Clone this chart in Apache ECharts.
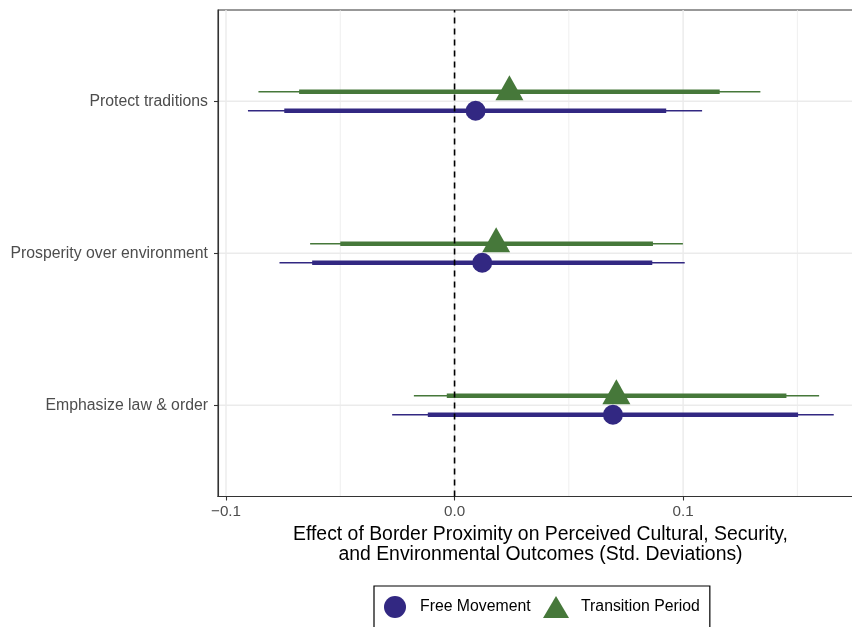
<!DOCTYPE html>
<html>
<head>
<meta charset="utf-8">
<script src="https://cdn.jsdelivr.net/npm/echarts@6/dist/echarts.min.js"></script>
<style>
html,body{margin:0;padding:0;background:#fff;}
#chart{width:852px;height:627px;}
</style>
</head>
<body>
<div id="chart"></div>
<script>
// Categories, bottom to top (position 1..3 on the y scale)
const categories = ['Emphasize law & order', 'Prosperity over environment', 'Protect traditions'];
const categoryPositions = [1, 2, 3];

// Free Movement estimates and intervals
const fmEst  = [0.0693, 0.0121, 0.0092];
const fmLo95 = [-0.0273, -0.0766, -0.0904];
const fmHi95 = [0.1659, 0.1007, 0.1083];
const fmLo90 = [-0.0117, -0.0623, -0.0745];
const fmHi90 = [0.1503, 0.0865, 0.0926];

// Transition Period estimates and intervals
const tpEst  = [0.0708, 0.0182, 0.0240];
const tpLo95 = [-0.0178, -0.0632, -0.0858];
const tpHi95 = [0.1595, 0.0999, 0.1338];
const tpLo90 = [-0.0034, -0.0500, -0.0680];
const tpHi90 = [0.1452, 0.0868, 0.1160];

// Axis ticks
const xTicks = [-0.1, 0, 0.1];
const xMinorGrid = [-0.05, 0.05, 0.15];
const xMin = -0.1035, xMax = 0.1787;
const yMin = 0.4, yMax = 3.6;

const NAVY = '#322882';
const GREEN = '#46783A';
const DODGE = 0.0625;
const FONT = '"Liberation Sans", Arial, Helvetica, sans-serif';

function fmtX(v) {
  const s = Math.abs(v) < 1e-9 ? '0.0' : v.toFixed(1);
  return s.replace('-', '\u2212');
}

function intervalData(pos, lo95, hi95, lo90, hi90, off) {
  return pos.map((p, i) => [lo95[i], p + off, hi95[i], lo90[i], hi90[i]]);
}

function intervalRenderer(color) {
  return function (params, api) {
    const y = api.value(1);
    const a = api.coord([api.value(0), y]);
    const b = api.coord([api.value(2), y]);
    const c = api.coord([api.value(3), y]);
    const d = api.coord([api.value(4), y]);
    return {
      type: 'group',
      children: [
        { type: 'line', shape: { x1: a[0], y1: a[1], x2: b[0], y2: b[1] },
          style: { stroke: color, lineWidth: 1.6, lineCap: 'butt' } },
        { type: 'line', shape: { x1: c[0], y1: c[1], x2: d[0], y2: d[1] },
          style: { stroke: color, lineWidth: 4.6, lineCap: 'butt' } }
      ]
    };
  };
}

function vLineRenderer(width, color, dash) {
  return function (params, api) {
    const v = api.value(0);
    const p1 = api.coord([v, yMin]);
    const p2 = api.coord([v, yMax]);
    return { type: 'line', shape: { x1: p1[0], y1: p1[1], x2: p2[0], y2: p2[1] },
      style: { stroke: color, lineWidth: width, lineDash: dash || null } };
  };
}

function hLineRenderer(width, color) {
  return function (params, api) {
    const v = api.value(0);
    const p1 = api.coord([xMin, v]);
    const p2 = api.coord([xMax, v]);
    return { type: 'line', shape: { x1: p1[0], y1: p1[1], x2: p2[0], y2: p2[1] },
      style: { stroke: color, lineWidth: width } };
  };
}

const chart = echarts.init(document.getElementById('chart'), null, { renderer: 'canvas' });

const option = {
  animation: false,
  backgroundColor: '#ffffff',
  grid: {
    left: 218, top: 10, width: 645, height: 486.5,
    outerBoundsMode: 'none', containLabel: false,
    show: true, borderColor: '#333333', borderWidth: 1.1, backgroundColor: 'transparent'
  },
  xAxis: {
    type: 'value', min: xMin, max: xMax,
    splitLine: { show: false },
    axisLine: { show: true, onZero: false, lineStyle: { color: '#333333', width: 1.1 } },
    axisTick: { show: true, customValues: xTicks, length: 4, lineStyle: { color: '#333333', width: 1.1 } },
    axisLabel: { customValues: xTicks, formatter: fmtX, margin: 8,
      color: '#4D4D4D', fontSize: 15.2, fontFamily: FONT },
    name: 'Effect of Border Proximity on Perceived Cultural, Security,\nand Environmental Outcomes (Std. Deviations)',
    nameLocation: 'middle', nameGap: 27.5,
    nameTextStyle: { color: '#000000', fontSize: 19.4, lineHeight: 20.5, fontFamily: FONT, align: 'center' }
  },
  yAxis: {
    type: 'value', min: yMin, max: yMax,
    splitLine: { show: false },
    axisLine: { show: true, onZero: false, lineStyle: { color: '#333333', width: 1.1 } },
    axisTick: { show: true, customValues: categoryPositions, length: 4, lineStyle: { color: '#333333', width: 1.1 } },
    axisLabel: { customValues: categoryPositions,
      formatter: v => categories[Math.round(v) - 1], margin: 10,
      color: '#4D4D4D', fontSize: 15.8, fontFamily: FONT }
  },
  legend: {
    left: 374, top: 586,
    orient: 'horizontal',
    selectedMode: false,
    padding: [10, 10, 10, 10],
    borderColor: '#000000', borderWidth: 1.2,
    itemWidth: 26, itemHeight: 22, itemGap: 12.4,
    textStyle: { color: '#000000', fontSize: 15.8, fontFamily: FONT, padding: [0, 0, 0, 7] },
    data: [
      { name: 'Free Movement', icon: 'circle' },
      { name: 'Transition Period', icon: 'triangle' }
    ]
  },
  series: [
    { type: 'custom', name: 'gridMinor', silent: true, z: 0,
      data: xMinorGrid.map(v => [v]), renderItem: vLineRenderer(0.8, '#EBEBEB') },
    { type: 'custom', name: 'gridMajorX', silent: true, z: 0,
      data: xTicks.map(v => [v]), renderItem: vLineRenderer(1.4, '#EBEBEB') },
    { type: 'custom', name: 'gridMajorY', silent: true, z: 0,
      data: categoryPositions.map(v => [v]), renderItem: hLineRenderer(1.4, '#EBEBEB') },
    { type: 'custom', name: 'fmIntervals', silent: true, z: 2,
      encode: { x: [0, 2, 3, 4], y: 1 },
      data: intervalData(categoryPositions, fmLo95, fmHi95, fmLo90, fmHi90, -DODGE),
      renderItem: intervalRenderer(NAVY) },
    { type: 'custom', name: 'tpIntervals', silent: true, z: 2,
      encode: { x: [0, 2, 3, 4], y: 1 },
      data: intervalData(categoryPositions, tpLo95, tpHi95, tpLo90, tpHi90, DODGE),
      renderItem: intervalRenderer(GREEN) },
    { type: 'custom', name: 'zeroLine', silent: true, z: 3,
      data: [[0]], renderItem: vLineRenderer(1.6, '#000000', [6, 5]) },
    { type: 'scatter', name: 'Free Movement', z: 4,
      symbol: 'circle', symbolSize: 20,
      itemStyle: { color: NAVY, opacity: 1 },
      data: categoryPositions.map((p, i) => [fmEst[i], p - DODGE]) },
    { type: 'scatter', name: 'Transition Period', z: 4,
      symbol: 'triangle', symbolSize: [28, 25], symbolOffset: [0, -4],
      itemStyle: { color: GREEN, opacity: 1 },
      data: categoryPositions.map((p, i) => [tpEst[i], p + DODGE]) }
  ]
};

chart.setOption(option);
</script>
</body>
</html>
